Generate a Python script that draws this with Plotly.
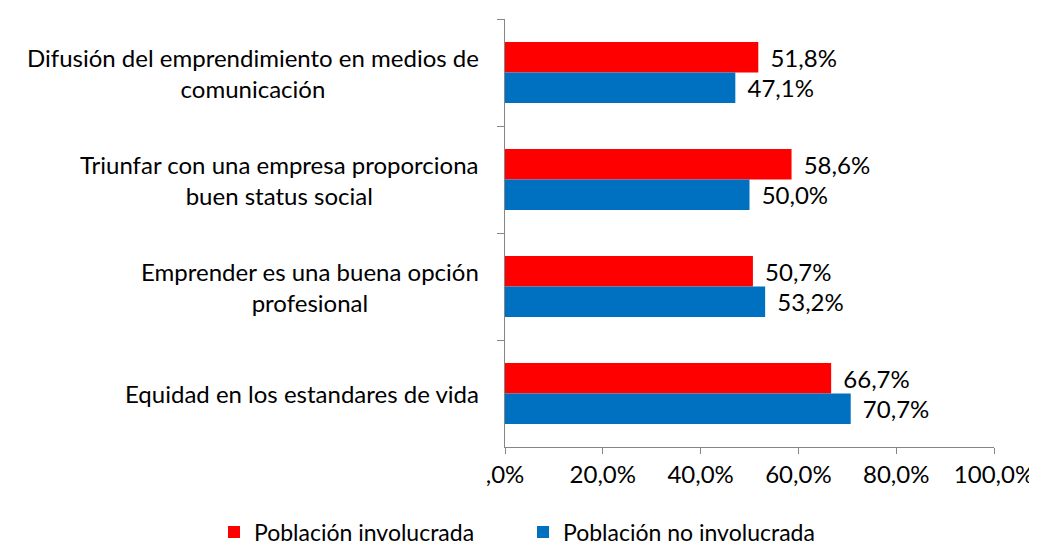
import plotly.graph_objects as go

categories = [
    "Difusión del emprendimiento en medios de<br>comunicación",
    "Triunfar con una empresa proporciona<br>buen status social",
    "Emprender es una buena opción<br>profesional",
    "Equidad en los estandares de vida",
]
series_names = ["Población involucrada", "Población no involucrada"]
involucrada = [51.8, 58.6, 50.7, 66.7]
no_involucrada = [47.1, 50.0, 53.2, 70.7]
x_tickvals = [0, 20, 40, 60, 80, 100]
x_ticktext = [",0%", "20,0%", "40,0%", "60,0%", "80,0%", "100,0%"]

FONT = "Lato, 'Open Sans', sans-serif"
FS = 24
colors = ["#FF0000", "#0070C0"]
W, H = 1029, 539
L, R, T, B = 497, 43, 11, 100
PW, PH = W - L - R, H - T - B

def fmt(v):
    return "\u00a0\u2009" + f"{v:.1f}".replace(".", ",") + "%"

fig = go.Figure()
for name, vals, col in zip(series_names, [involucrada, no_involucrada], colors):
    fig.add_trace(go.Bar(
        y=categories, x=vals, name=name, orientation="h",
        marker=dict(color=col, line=dict(width=0)),
        text=[fmt(v) for v in vals], textposition="outside",
        textfont=dict(family=FONT, size=FS, color="#000000"),
        cliponaxis=False,
    ))

for i, c in enumerate(categories):
    fig.add_annotation(
        x=-0.049, xref="paper", y=i, yref="y", text=c,
        xanchor="right", align="center", showarrow=False,
        font=dict(family=FONT, size=FS, color="#000000"),
    )

fig.update_layout(
    width=W, height=H,
    margin=dict(l=L, r=R, t=T, b=B, autoexpand=False),
    paper_bgcolor="white", plot_bgcolor="white",
    barmode="group", bargap=0.43, bargroupgap=0,
    font=dict(family=FONT, size=FS, color="#000000"),
    showlegend=True,
    legend=dict(orientation="h", x=(206 - L) / PW, xanchor="left",
                y=(H - B - 524) / PH, yanchor="middle",
                font=dict(family=FONT, size=23), traceorder="normal",
                itemwidth=30, entrywidth=264, entrywidthmode="pixels"),
)
fig.update_xaxes(
    range=[0, 100], tickvals=x_tickvals, ticktext=x_ticktext, automargin=False,
    showgrid=False, zeroline=False, showline=True, linecolor="#868686", linewidth=1,
    ticks="outside", ticklen=6, tickcolor="#868686",
    tickfont=dict(family=FONT, size=FS, color="#000000"),
)
fig.update_yaxes(
    type="category", categoryorder="array", categoryarray=categories, automargin=False,
    range=[3.5, -0.5], showticklabels=False, tickson="boundaries",
    showgrid=False, showline=True, linecolor="#868686", linewidth=1,
    ticks="outside", ticklen=7, tickcolor="#868686",
)
fig.write_html("out.html")
